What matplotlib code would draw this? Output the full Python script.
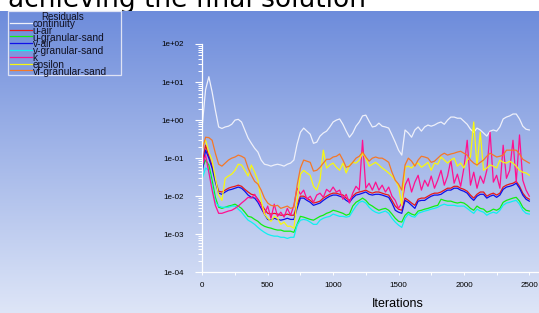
import numpy as np
import matplotlib
matplotlib.use("Agg")
import matplotlib.pyplot as plt
from matplotlib.ticker import FixedLocator, FixedFormatter, LogLocator, MultipleLocator, NullFormatter
from matplotlib.patches import Rectangle

# residual history, sampled every 25 iterations (values are log10 of the residual)
iterations = np.arange(0, 2501, 25)

continuity_exp = [
    -0.13, 0.80, 1.14, 0.74, 0.26, -0.18, -0.22, -0.18, -0.16, -0.11,
    0.00, 0.02, -0.05, -0.26, -0.47, -0.61, -0.74, -0.84, -1.05, -1.16,
    -1.18, -1.21, -1.18, -1.16, -1.18, -1.21, -1.16, -1.13, -1.05, -0.63,
    -0.32, -0.21, -0.29, -0.37, -0.61, -0.58, -0.42, -0.34, -0.29, -0.18,
    -0.05, 0.00, 0.03, -0.11, -0.29, -0.45, -0.34, -0.16, -0.05, 0.11,
    0.13, -0.03, -0.18, -0.16, -0.08, -0.16, -0.18, -0.21, -0.39, -0.58,
    -0.79, -0.92, -0.26, -0.34, -0.45, -0.26, -0.18, -0.29, -0.18, -0.13,
    -0.16, -0.13, -0.08, -0.05, -0.11, 0.00, 0.08, 0.08, 0.05, 0.05,
    -0.03, -0.11, -0.24, -0.32, -0.21, -0.26, -0.34, -0.42, -0.29, -0.26,
    -0.29, -0.18, 0.03, 0.08, 0.11, 0.16, 0.16, 0.03, -0.16, -0.24,
    -0.26,
]
u_air_exp = [
    -1.11, -0.66, -0.95, -1.21, -1.58, -1.87, -1.89, -1.84, -1.79, -1.76,
    -1.74, -1.71, -1.74, -1.82, -1.89, -1.95, -1.97, -2.08, -2.21, -2.34,
    -2.45, -2.47, -2.45, -2.47, -2.50, -2.50, -2.47, -2.50, -2.50, -2.21,
    -2.00, -2.00, -2.05, -2.11, -2.18, -2.16, -2.13, -2.05, -2.00, -1.95,
    -1.92, -1.92, -1.95, -1.97, -2.05, -2.11, -2.00, -1.92, -1.89, -1.87,
    -1.84, -1.89, -1.92, -1.89, -1.89, -1.92, -1.95, -1.97, -2.11, -2.26,
    -2.34, -2.37, -2.05, -2.11, -2.18, -2.24, -2.08, -2.05, -2.05, -2.00,
    -1.95, -1.92, -1.92, -1.89, -1.84, -1.79, -1.79, -1.74, -1.74, -1.79,
    -1.82, -1.87, -1.97, -2.05, -1.95, -1.89, -1.89, -2.00, -1.95, -1.92,
    -1.97, -1.92, -1.76, -1.71, -1.68, -1.66, -1.61, -1.74, -1.92, -2.03,
    -2.08,
]
u_sand_exp = [
    -1.26, -1.05, -1.18, -1.58, -2.03, -2.29, -2.32, -2.29, -2.26, -2.24,
    -2.21, -2.26, -2.32, -2.42, -2.53, -2.55, -2.61, -2.66, -2.74, -2.79,
    -2.82, -2.84, -2.87, -2.89, -2.89, -2.92, -2.92, -2.92, -2.95, -2.74,
    -2.53, -2.55, -2.58, -2.61, -2.63, -2.58, -2.53, -2.50, -2.45, -2.42,
    -2.37, -2.39, -2.42, -2.45, -2.50, -2.47, -2.26, -2.16, -2.11, -2.05,
    -2.11, -2.21, -2.26, -2.32, -2.37, -2.34, -2.32, -2.37, -2.47, -2.58,
    -2.66, -2.68, -2.50, -2.42, -2.47, -2.50, -2.39, -2.37, -2.34, -2.32,
    -2.29, -2.26, -2.24, -2.08, -2.11, -2.13, -2.13, -2.16, -2.18, -2.16,
    -2.18, -2.24, -2.32, -2.37, -2.26, -2.32, -2.34, -2.42, -2.39, -2.34,
    -2.37, -2.32, -2.16, -2.11, -2.08, -2.05, -2.03, -2.13, -2.29, -2.37,
    -2.39,
]
v_air_exp = [
    -1.37, -0.79, -1.00, -1.26, -1.63, -1.92, -1.95, -1.89, -1.84, -1.82,
    -1.79, -1.76, -1.79, -1.87, -1.97, -2.03, -2.05, -2.16, -2.32, -2.47,
    -2.61, -2.63, -2.58, -2.61, -2.63, -2.61, -2.58, -2.61, -2.61, -2.32,
    -2.05, -2.05, -2.11, -2.16, -2.24, -2.21, -2.18, -2.11, -2.05, -2.00,
    -1.97, -1.97, -2.00, -2.03, -2.11, -2.16, -2.05, -1.97, -1.95, -1.92,
    -1.89, -1.95, -1.97, -1.95, -1.95, -1.97, -2.00, -2.03, -2.18, -2.37,
    -2.42, -2.45, -2.11, -2.16, -2.24, -2.32, -2.13, -2.11, -2.11, -2.05,
    -2.00, -1.97, -1.97, -1.95, -1.89, -1.84, -1.84, -1.79, -1.79, -1.84,
    -1.87, -1.92, -2.03, -2.11, -2.00, -1.95, -1.95, -2.05, -2.00, -1.97,
    -2.03, -1.97, -1.82, -1.76, -1.74, -1.71, -1.66, -1.79, -1.97, -2.08,
    -2.13,
]
v_sand_exp = [
    -1.53, -1.26, -1.32, -1.74, -2.16, -2.26, -2.29, -2.29, -2.29, -2.26,
    -2.26, -2.34, -2.42, -2.53, -2.63, -2.68, -2.74, -2.82, -2.89, -2.95,
    -3.00, -3.03, -3.05, -3.05, -3.08, -3.08, -3.11, -3.08, -3.08, -2.76,
    -2.63, -2.61, -2.63, -2.68, -2.74, -2.74, -2.63, -2.58, -2.55, -2.53,
    -2.47, -2.50, -2.53, -2.53, -2.55, -2.53, -2.39, -2.26, -2.16, -2.13,
    -2.18, -2.29, -2.37, -2.42, -2.45, -2.42, -2.39, -2.45, -2.58, -2.68,
    -2.76, -2.82, -2.58, -2.47, -2.53, -2.55, -2.45, -2.42, -2.39, -2.37,
    -2.34, -2.32, -2.29, -2.24, -2.21, -2.24, -2.24, -2.24, -2.26, -2.26,
    -2.26, -2.32, -2.39, -2.45, -2.34, -2.39, -2.42, -2.50, -2.45, -2.42,
    -2.45, -2.37, -2.24, -2.18, -2.16, -2.13, -2.11, -2.21, -2.37, -2.45,
    -2.47,
]
k_exp = [
    -1.18, -0.92, -1.37, -1.84, -2.24, -2.45, -2.45, -2.42, -2.39, -2.37,
    -2.32, -2.26, -2.18, -2.11, -2.03, -2.05, -1.95, -2.11, -2.24, -2.47,
    -2.26, -2.58, -2.21, -2.53, -2.42, -2.55, -2.32, -2.50, -2.24, -1.79,
    -1.95, -1.84, -2.08, -2.00, -2.16, -1.97, -1.92, -2.03, -1.82, -1.89,
    -1.76, -1.89, -1.84, -2.08, -1.95, -2.18, -1.92, -1.74, -1.84, -0.53,
    -1.79, -1.66, -1.84, -1.63, -1.84, -1.71, -1.89, -1.76, -2.00, -2.11,
    -2.32, -2.18, -1.71, -1.53, -1.89, -1.63, -1.45, -1.84, -1.58, -1.74,
    -1.47, -1.79, -1.58, -1.32, -1.71, -1.47, -1.05, -1.66, -1.42, -1.74,
    -1.26, -0.53, -1.71, -1.37, -1.79, -1.47, -1.66, -1.32, -0.32, -1.63,
    -1.45, -1.79, -0.66, -1.53, -1.32, -0.53, -1.63, -0.39, -1.58, -1.84,
    -2.00,
]
epsilon_exp = [
    -0.66, -0.53, -0.84, -1.05, -1.53, -1.97, -2.11, -1.53, -1.47, -1.42,
    -1.32, -1.16, -1.18, -1.32, -1.47, -1.18, -1.37, -1.58, -2.11, -2.47,
    -2.58, -2.66, -2.53, -2.58, -2.74, -2.68, -2.79, -2.79, -2.84, -2.11,
    -1.42, -1.32, -1.39, -1.45, -1.74, -1.84, -1.58, -0.79, -1.26, -1.18,
    -1.13, -1.24, -1.32, -1.13, -1.39, -1.18, -1.11, -1.13, -1.05, -0.87,
    -1.00, -1.21, -1.16, -1.11, -1.18, -1.26, -1.32, -1.39, -1.47, -1.58,
    -1.74, -2.24, -1.24, -1.21, -1.26, -1.16, -1.13, -1.24, -1.18, -1.11,
    -1.32, -1.13, -1.16, -0.97, -1.05, -1.13, -1.05, -1.00, -1.21, -1.13,
    -1.26, -1.05, -0.97, -0.05, -1.21, -0.32, -1.32, -1.26, -1.18, -1.21,
    -1.26, -1.05, -1.11, -1.13, -1.08, -1.13, -1.21, -1.32, -1.37, -1.39,
    -1.45,
]
vf_sand_exp = [
    -0.79, -0.45, -0.46, -0.53, -0.87, -1.16, -1.21, -1.13, -1.05, -1.00,
    -0.97, -0.92, -0.95, -1.00, -1.26, -1.45, -1.61, -1.68, -1.84, -2.05,
    -2.18, -2.24, -2.26, -2.24, -2.32, -2.29, -2.26, -2.32, -2.29, -1.71,
    -1.26, -1.05, -1.08, -1.11, -1.34, -1.32, -1.24, -1.13, -1.03, -1.03,
    -0.97, -0.95, -0.89, -1.05, -1.24, -1.21, -1.11, -1.00, -0.95, -0.84,
    -0.97, -1.08, -1.00, -0.97, -1.00, -1.00, -1.05, -1.11, -1.37, -1.58,
    -1.68, -1.84, -1.18, -1.00, -1.08, -1.21, -1.05, -0.95, -0.97, -1.00,
    -1.11, -1.08, -1.00, -0.92, -0.87, -0.92, -0.89, -0.87, -0.84, -0.82,
    -0.87, -0.92, -1.05, -1.13, -1.18, -1.11, -1.05, -0.95, -0.87, -0.92,
    -0.97, -0.95, -0.92, -0.79, -0.79, -0.79, -0.79, -0.89, -1.03, -1.08,
    -1.13,
]

series_names = ["continuity", "u-air", "u-granular-sand", "v-air",
                "v-granular-sand", "k", "epsilon", "vf-granular-sand"]
series_exps = [continuity_exp, u_air_exp, u_sand_exp, v_air_exp,
               v_sand_exp, k_exp, epsilon_exp, vf_sand_exp]
series_colors = ["#eef0fa", "#e81818", "#10f010", "#1010e8",
                 "#10f0f0", "#ff1090", "#f8f810", "#f57828"]

y_ticks = [1e2, 1e1, 1e0, 1e-1, 1e-2, 1e-3, 1e-4]
y_labels = ["1e+02", "1e+01", "1e+00", "1e-01", "1e-02", "1e-03", "1e-04"]
x_ticks = [0, 500, 1000, 1500, 2000, 2500]
x_labels = ["0", "500", "1000", "1500", "2000", "2500"]

W, H = 539, 313
fig = plt.figure(figsize=(W / 100, H / 100), dpi=100)
fig.patch.set_facecolor("white")

# clipped heading of the page behind the screenshot
fig.text(8 / W, 1 - 7 / H, "achieving the final solution", fontsize=19,
         family="DejaVu Sans", color="black", va="baseline", zorder=-1)

# blue gradient background
bg = fig.add_axes([0, 0, 1, (H - 11) / H], zorder=0)
top = np.array([0.43, 0.55, 0.86])
bottom = np.array([0.87, 0.90, 0.97])
t = np.linspace(0, 1, 256)[:, None]
grad = (top[None, :] * (1 - t) + bottom[None, :] * t)[:, None, :]
bg.imshow(grad, aspect="auto", extent=[0, 1, 0, 1], interpolation="bilinear")
bg.set_axis_off()

tick_font = dict(family="Liberation Sans", size=5.8, color="black")

ax = fig.add_axes([202.3 / W, (H - 272.3) / H, (W - 202.3) / W, 228.3 / H], zorder=1)
ax.patch.set_alpha(0)
for name, exps, col in zip(series_names, series_exps, series_colors):
    ax.plot(iterations, 10.0 ** np.array(exps), color=col, lw=0.9, label=name)

ax.set_yscale("log")
ax.set_ylim(1e-4, 1e2)
ax.set_xlim(0, 2574)
ax.yaxis.set_major_locator(FixedLocator(y_ticks))
ax.yaxis.set_major_formatter(FixedFormatter(y_labels))
ax.yaxis.set_minor_locator(LogLocator(base=10, subs=np.arange(2, 10), numticks=20))
ax.yaxis.set_minor_formatter(NullFormatter())
ax.xaxis.set_major_locator(FixedLocator(x_ticks))
ax.xaxis.set_major_formatter(FixedFormatter(x_labels))
ax.xaxis.set_minor_locator(MultipleLocator(250))

for s in ["top", "right"]:
    ax.spines[s].set_visible(False)
for s in ["left", "bottom"]:
    ax.spines[s].set_color("white")
    ax.spines[s].set_linewidth(0.9)

ax.tick_params(axis="y", which="major", direction="out", length=4.7, width=0.8,
               color="white", pad=8.3)
ax.tick_params(axis="y", which="minor", direction="out", length=2.8, width=0.7,
               color="white")
ax.tick_params(axis="x", which="both", direction="out", length=1.8, width=0.7,
               color="white", pad=5.4)
for lab in ax.get_xticklabels() + ax.get_yticklabels():
    lab.set_fontfamily(tick_font["family"])
    lab.set_fontsize(tick_font["size"])
    lab.set_color(tick_font["color"])

ax.set_xlabel("Iterations", family="Liberation Sans", fontsize=9, color="black")
ax.xaxis.set_label_coords((398 - 202.3) / (W - 202.3), (272.3 - 304.3) / 228.3)
ax.xaxis.label.set_verticalalignment("center")

# Fluent-style legend box in the upper left corner
ov = fig.add_axes([0, 0, 1, 1], zorder=2)
ov.set_xlim(0, W)
ov.set_ylim(H, 0)
ov.set_axis_off()
ov.patch.set_alpha(0)
ov.add_patch(Rectangle((8.3, 11.3), 112.4, 63.7, fill=False, ec="#dfe3f4", lw=0.9))
ov.text(63, 16.5, "Residuals", family="Liberation Sans", fontsize=7,
        ha="center", va="center", color="#101020")
for i, (name, col) in enumerate(zip(series_names, series_colors)):
    row = 22.7 + i * 6.82
    ov.plot([10, 32], [row, row], color=col, lw=0.9)
    ov.text(32.5, row + 1.3, name, family="Liberation Sans", fontsize=7.3,
            ha="left", va="center", color="#101020")

fig.savefig("out.png", dpi=100)
